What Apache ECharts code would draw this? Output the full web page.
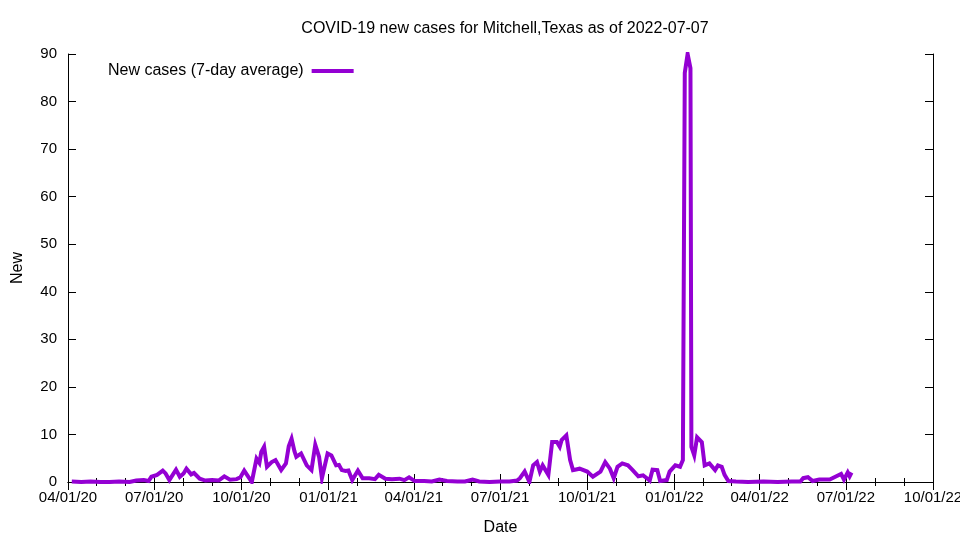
<!DOCTYPE html>
<html>
<head>
<meta charset="utf-8">
<script src="https://cdn.jsdelivr.net/npm/echarts@6/dist/echarts.min.js"></script>
<style>html,body{margin:0;padding:0;background:#fff}#c{width:960px;height:540px}</style>
</head>
<body>
<div id="c"></div>
<script>
const titleText = 'COVID-19 new cases for Mitchell,Texas as of 2022-07-07';
const seriesName = 'New cases (7-day average)';
const xAxisName = 'Date';
const yAxisName = 'New';
const xMin = '2020-04-01';
const xMax = '2022-10-01';
const yMin = 0, yMax = 90, yStep = 10;

const dates = [
'2020-04-05','2020-04-15','2020-04-25','2020-05-05','2020-05-15','2020-05-25','2020-06-05','2020-06-12','2020-06-20','2020-06-25',
'2020-06-28','2020-07-04','2020-07-10','2020-07-13','2020-07-17','2020-07-24','2020-07-28','2020-08-01','2020-08-04','2020-08-09',
'2020-08-12','2020-08-18','2020-08-24','2020-08-31','2020-09-07','2020-09-13','2020-09-19','2020-09-26','2020-09-30','2020-10-04',
'2020-10-08','2020-10-12','2020-10-17','2020-10-20','2020-10-22','2020-10-25','2020-10-28','2020-11-02','2020-11-06','2020-11-12',
'2020-11-17','2020-11-20','2020-11-23','2020-11-26','2020-11-28','2020-12-03','2020-12-09','2020-12-14','2020-12-18','2020-12-20',
'2020-12-22','2020-12-25','2020-12-31','2021-01-04','2021-01-09','2021-01-12','2021-01-15','2021-01-19','2021-01-22','2021-01-26',
'2021-02-01','2021-02-03','2021-02-06','2021-02-13','2021-02-19','2021-02-23','2021-03-02','2021-03-09','2021-03-17','2021-03-22',
'2021-03-27','2021-04-02','2021-04-12','2021-04-20','2021-04-28','2021-05-06','2021-05-17','2021-05-25','2021-06-02','2021-06-09',
'2021-06-20','2021-07-01','2021-07-11','2021-07-19','2021-07-22','2021-07-27','2021-08-01','2021-08-05','2021-08-09','2021-08-12',
'2021-08-15','2021-08-21','2021-08-25','2021-08-30','2021-09-02','2021-09-04','2021-09-09','2021-09-13','2021-09-16','2021-09-23',
'2021-10-01','2021-10-07','2021-10-15','2021-10-20','2021-10-25','2021-10-29','2021-11-02','2021-11-07','2021-11-13','2021-11-18',
'2021-11-24','2021-11-29','2021-12-03','2021-12-06','2021-12-09','2021-12-14','2021-12-17','2021-12-24','2021-12-27','2022-01-02',
'2022-01-07','2022-01-10','2022-01-12','2022-01-15','2022-01-18','2022-01-19','2022-01-22','2022-01-25','2022-01-30','2022-02-02',
'2022-02-07','2022-02-13','2022-02-16','2022-02-20','2022-02-23','2022-02-27','2022-03-07','2022-03-20','2022-04-05','2022-04-20',
'2022-05-05','2022-05-14','2022-05-17','2022-05-22','2022-05-27','2022-06-03','2022-06-14','2022-06-21','2022-06-26','2022-06-29',
'2022-07-03','2022-07-05','2022-07-07'
];
const values = [
0.1,0,0.1,0,0,0.1,0,0.3,0.4,0.2,
1.1,1.5,2.4,1.8,0.4,2.6,1.1,1.8,2.8,1.6,
1.9,0.7,0.3,0.4,0.3,1.2,0.5,0.6,1.0,2.4,
1.2,0,4.9,4.0,6.3,7.4,3.2,4.2,4.6,2.5,
3.9,7.5,9.1,6.5,5.3,6.0,3.5,2.5,7.8,7.6,
5.3,0.8,6.0,5.6,3.5,3.6,2.5,2.3,2.4,0.4,
2.4,2.5,0.8,0.8,0.6,1.5,0.7,0.6,0.7,0.4,
1.0,0.2,0.2,0.1,0.5,0.2,0.1,0.1,0.5,0.1,
0,0.1,0.1,0.3,0.8,2.2,0,3.5,4.2,2.2,
3.5,1.5,8.4,8.4,7.4,8.8,9.8,4.6,2.5,2.8,
2.2,1.1,2.2,4.2,2.8,0.8,3.2,3.9,3.5,2.5,
1.2,1.4,0.8,0.3,2.6,2.5,0.2,0.4,2.2,3.5,
3.2,4.6,86,90,87,7.4,5.6,9.4,8.4,3.5,
3.9,2.5,3.5,3.2,1.5,0.2,0.1,0,0.1,0,
0.1,0.1,0.8,1.0,0.2,0.5,0.5,1.2,1.7,0.5,
2.0,1.2,2.0
];

const FONT = "'Liberation Sans', Arial, sans-serif";
const DAY = 86400000;
function fmtDate(v) {
  const d = new Date(v);
  const mm = String(d.getMonth() + 1).padStart(2, '0');
  const dd = String(d.getDate()).padStart(2, '0');
  const yy = String(d.getFullYear() % 100).padStart(2, '0');
  return mm + '/' + dd + '/' + yy;
}
const lineColor = '#000';
const baseX = {
  type: 'time', min: xMin, max: xMax,
  minInterval: 95 * DAY, maxInterval: 95 * DAY,
  axisLine: { show: true, lineStyle: { color: lineColor, width: 1 } },
  axisTick: { show: true, inside: true, length: 8, lineStyle: { color: lineColor } },
  minorTick: { show: true, splitNumber: 3, length: 4, lineStyle: { color: lineColor } },
  splitLine: { show: false }, minorSplitLine: { show: false }
};
const baseY = {
  type: 'value', min: yMin, max: yMax, interval: yStep,
  axisLine: { show: true, lineStyle: { color: lineColor, width: 1 } },
  axisTick: { show: true, inside: true, length: 8, lineStyle: { color: lineColor } },
  splitLine: { show: false }
};

const chart = echarts.init(document.getElementById('c'), null, { renderer: 'canvas' });
chart.setOption({
  animation: false,
  backgroundColor: '#fff',
  textStyle: { fontFamily: FONT, color: '#000' },
  title: {
    text: titleText, left: 500, top: 16, textAlign: 'center',
    textStyle: { fontFamily: FONT, fontSize: 16, fontWeight: 'normal', color: '#000' }
  },
  legend: {
    data: [seriesName], left: 103, top: 58, align: 'right',
    icon: 'rect', itemWidth: 42, itemHeight: 4,
    textStyle: { fontFamily: FONT, fontSize: 16, color: '#000', padding: [0, 3, 0, 0] }
  },
  grid: { left: 68, right: 27, top: 54, bottom: 58, containLabel: false, outerBoundsMode: 'none' },
  xAxis: [
    Object.assign({}, baseX, {
      position: 'bottom', name: xAxisName, nameLocation: 'middle', nameGap: 38,
      nameTextStyle: { fontFamily: FONT, fontSize: 16, color: '#000' },
      axisLabel: { show: true, formatter: fmtDate, fontFamily: FONT, fontSize: 15, color: '#000', margin: 8,
        showMinLabel: true, showMaxLabel: true, hideOverlap: false, fontWeight: 'normal' }
    }),
    Object.assign({}, baseX, { position: 'top', axisLabel: { show: false } })
  ],
  yAxis: [
    Object.assign({}, baseY, {
      position: 'left', name: yAxisName, nameLocation: 'middle', nameGap: 42,
      nameTextStyle: { fontFamily: FONT, fontSize: 16, color: '#000' },
      axisLabel: { show: true, fontFamily: FONT, fontSize: 15, color: '#000', margin: 11 }
    }),
    Object.assign({}, baseY, { position: 'right', axisLabel: { show: false } })
  ],
  series: [{
    name: seriesName, type: 'line', xAxisIndex: 0, yAxisIndex: 0,
    data: dates.map((d, i) => [d, values[i]]),
    showSymbol: false, symbol: 'none',
    lineStyle: { color: '#9400d3', width: 4, join: 'miter' },
    itemStyle: { color: '#9400d3' }
  }]
});
</script>
</body>
</html>
